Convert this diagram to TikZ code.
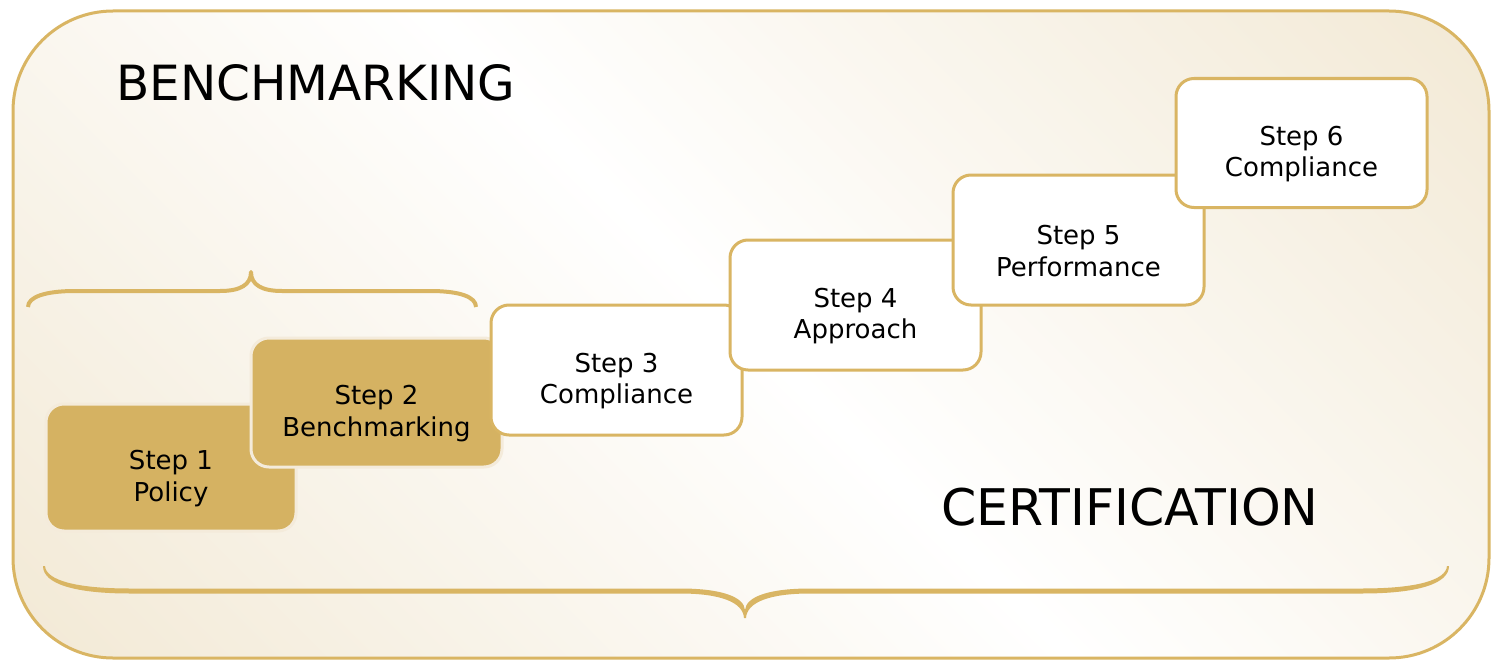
\documentclass[tikz,border=0pt]{standalone}
\usepackage{fontspec}
\setmainfont{DejaVu Sans}
\definecolor{gold}{HTML}{D5B262}
\definecolor{goldline}{HTML}{D9B563}
\definecolor{beige}{HTML}{EDE0C4}
\definecolor{paleline}{HTML}{F4EBDB}
\pgfdeclareverticalshading{bgshade}{100bp}{color(0bp)=(beige); color(50bp)=(white); color(100bp)=(beige)}
\tikzset{
  stepbox/.style={rounded corners=18pt, line width=3pt, minimum width=251pt, minimum height=129pt, inner sep=0pt},
  goldbox/.style={stepbox, fill=gold, draw=paleline},
  whitebox/.style={stepbox, fill=white, draw=goldline},
  steptext/.style={align=center, inner sep=0pt, font=\fontsize{26}{31.5}\selectfont},
  brace/.style={draw=goldline, line width=4pt, line join=round},
  heading/.style={anchor=base west, inner sep=0pt, font=\fontsize{48.5}{56}\selectfont}
}
\begin{document}
\begin{tikzpicture}[x=1pt,y=-1pt]
\useasboundingbox (0,0) rectangle (1491,661);
% outer frame
\draw[line width=3pt, draw=goldline, rounded corners=100pt, shading=bgshade, shading angle=-45]
  (13,11) rectangle (1489,658);
% headings
\node[heading] (bench) at (116,100) {BENCHMARKING};
\node[heading, font=\fontsize{50.5}{58}\selectfont] (cert) at (941,525) {CERTIFICATION};
% braces
\path[brace] (28,307) .. controls (28,297) and (45,291) .. (75,291) -- (220,291)
  .. controls (240,291) and (251,285) .. (251,272)
  .. controls (251,285) and (262,291) .. (282,291) -- (430,291)
  .. controls (460,291) and (476,297) .. (476,307);
\fill[goldline] (45,566) .. controls (46,580) and (75,588.5) .. (130,588.5) -- (680,588.5)
  .. controls (722,588.5) and (744,597) .. (745,610)
  .. controls (746,597) and (768,588.5) .. (810,588.5) -- (1362,588.5)
  .. controls (1417,588.5) and (1446,580) .. (1447,566)
  -- (1449,566) .. controls (1449,584) and (1417,593.5) .. (1362,593.5) -- (810,593.5)
  .. controls (770,593.5) and (747,602) .. (746,618) -- (744,618)
  .. controls (743,602) and (720,593.5) .. (680,593.5) -- (130,593.5)
  .. controls (75,593.5) and (43,584) .. (43,566) -- cycle;
% steps
\node[goldbox, minimum height=127pt, minimum width=250pt] (s1) at (171,467.5) {};
\node[steptext] (t1) at ([yshift=-11pt]s1.center) {Step 1\\Policy};
\node[goldbox] (s2) at (376.5,402.5) {};
\node[steptext] (t2) at ([yshift=-11pt]s2.center) {Step 2\\Benchmarking};
\node[whitebox, minimum height=130pt] (s3) at (616.5,370) {};
\node[steptext] (t3) at ([yshift=-11pt]s3.center) {Step 3\\Compliance};
\node[whitebox, minimum height=130pt] (s4) at (855.5,305) {};
\node[steptext] (t4) at ([yshift=-11pt]s4.center) {Step 4\\Approach};
\node[whitebox, minimum height=130pt] (s5) at (1078.5,240) {};
\node[steptext] (t5) at ([yshift=-11pt]s5.center) {Step 5\\Performance};
\node[whitebox] (s6) at (1301.5,143) {};
\node[steptext] (t6) at ([yshift=-11pt]s6.center) {Step 6\\Compliance};
\end{tikzpicture}
\end{document}
